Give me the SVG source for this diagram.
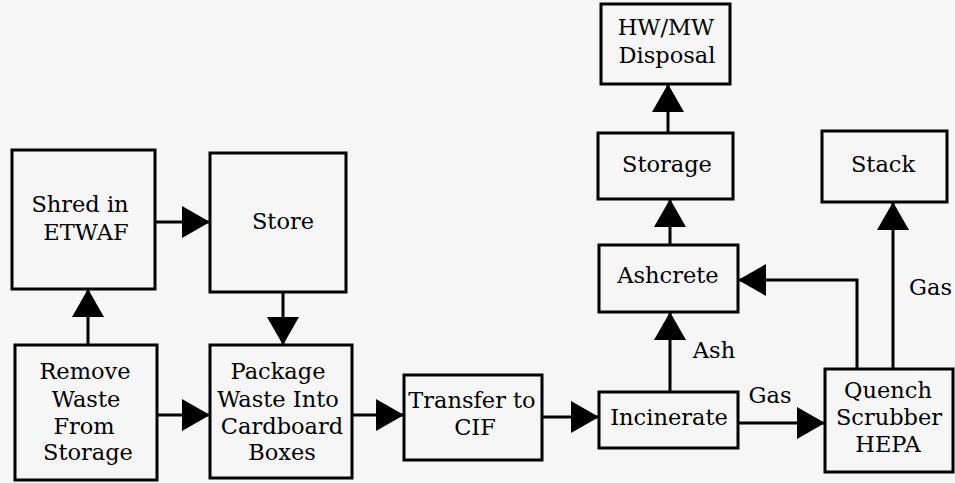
<svg xmlns="http://www.w3.org/2000/svg" width="955" height="483" viewBox="0 0 955 483">
  <style>
    .box { fill: none; stroke: #000; stroke-width: 3; }
    .lbl { font-family: "DejaVu Serif", "Liberation Serif", serif; font-size: 22.5px; fill: #000; text-anchor: middle; }
    .edge { fill: none; stroke: #000; stroke-width: 3; marker-end: url(#head); }
  </style>
  <defs>
    <marker id="head" markerUnits="userSpaceOnUse" markerWidth="28" markerHeight="32" refX="28" refY="16" orient="auto">
      <path d="M0,0 L28,16 L0,32 z" fill="#000"/>
    </marker>
  </defs>
  <rect width="955" height="483" fill="#f6f6f6"/>

  <g id="connectors">
    <path class="edge" d="M155,222 H210"/>
    <path class="edge" d="M88,345 V289"/>
    <path class="edge" d="M283,292 V345"/>
    <path class="edge" d="M157,415 H210"/>
    <path class="edge" d="M352,415 H404"/>
    <path class="edge" d="M542,417 H599"/>
    <path class="edge" d="M670,392 V312"/>
    <path class="edge" d="M670,245 V199"/>
    <path class="edge" d="M668,133 V84"/>
    <path class="edge" d="M738,423 H825"/>
    <path class="edge" d="M857,369 V280 H738"/>
    <path class="edge" d="M893,369 V202"/>
    <text class="lbl" x="714" y="358">Ash</text>
    <text class="lbl" x="770" y="403">Gas</text>
    <text class="lbl" x="952" y="295" style="text-anchor:end">Gas</text>
  </g>

  <g id="shred">
    <rect class="box" x="12" y="150" width="143" height="139"/>
    <text class="lbl" x="80" y="212">Shred in</text>
    <text class="lbl" x="86" y="240">ETWAF</text>
  </g>
  <g id="store">
    <rect class="box" x="210" y="153" width="136" height="139"/>
    <text class="lbl" x="283" y="229">Store</text>
  </g>
  <g id="remove">
    <rect class="box" x="15" y="345" width="142" height="135"/>
    <text class="lbl" x="85" y="379">Remove</text>
    <text class="lbl" x="86" y="407">Waste</text>
    <text class="lbl" x="84" y="434">From</text>
    <text class="lbl" x="88" y="460">Storage</text>
  </g>
  <g id="package">
    <rect class="box" x="210" y="345" width="142" height="133"/>
    <text class="lbl" x="278" y="379">Package</text>
    <text class="lbl" x="278" y="407">Waste Into</text>
    <text class="lbl" x="282" y="434">Cardboard</text>
    <text class="lbl" x="282" y="460">Boxes</text>
  </g>
  <g id="transfer">
    <rect class="box" x="404" y="375" width="138" height="85"/>
    <text class="lbl" x="472" y="408">Transfer to</text>
    <text class="lbl" x="475" y="435">CIF</text>
  </g>
  <g id="incinerate">
    <rect class="box" x="599" y="392" width="139" height="56"/>
    <text class="lbl" x="669" y="425">Incinerate</text>
  </g>
  <g id="ashcrete">
    <rect class="box" x="599" y="245" width="139" height="67"/>
    <text class="lbl" x="668" y="283">Ashcrete</text>
  </g>
  <g id="storage">
    <rect class="box" x="598" y="133" width="135" height="66"/>
    <text class="lbl" x="667" y="172">Storage</text>
  </g>
  <g id="disposal">
    <rect class="box" x="601" y="4" width="129" height="80"/>
    <text class="lbl" x="666" y="35">HW/MW</text>
    <text class="lbl" x="667" y="63">Disposal</text>
  </g>
  <g id="stack">
    <rect class="box" x="822" y="131" width="125" height="71"/>
    <text class="lbl" x="883" y="172">Stack</text>
  </g>
  <g id="quench">
    <rect class="box" x="825" y="369" width="128" height="103"/>
    <text class="lbl" x="888" y="398">Quench</text>
    <text class="lbl" x="889" y="425">Scrubber</text>
    <text class="lbl" x="888" y="452">HEPA</text>
  </g>
</svg>
